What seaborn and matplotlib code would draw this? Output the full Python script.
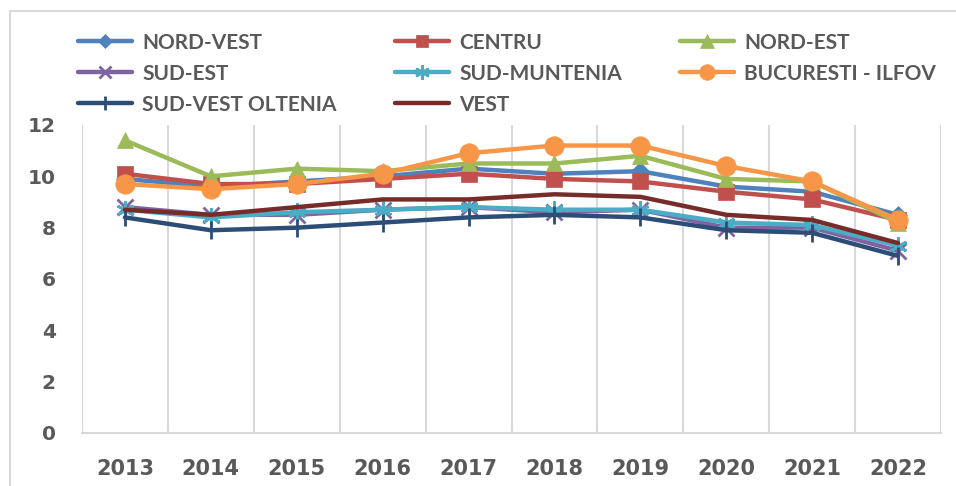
import numpy as np
import pandas as pd
import seaborn as sns
import matplotlib.pyplot as plt
from matplotlib.lines import Line2D

# ─── Data ─────────────────────────────────────────────────────────────────────
years = [2013, 2014, 2015, 2016, 2017, 2018, 2019, 2020, 2021, 2022]

nord_vest     = [9.9, 9.6, 9.8, 10.0, 10.3, 10.1, 10.2, 9.6, 9.4, 8.5]
centru        = [10.1, 9.7, 9.7, 9.9, 10.1, 9.9, 9.8, 9.4, 9.1, 8.3]
nord_est      = [11.4, 10.0, 10.3, 10.2, 10.5, 10.5, 10.8, 9.9, 9.8, 8.2]
sud_est       = [8.8, 8.5, 8.5, 8.7, 8.8, 8.6, 8.7, 8.0, 8.0, 7.1]
sud_muntenia  = [8.7, 8.4, 8.6, 8.7, 8.8, 8.7, 8.7, 8.2, 8.1, 7.3]
bucuresti     = [9.7, 9.5, 9.7, 10.1, 10.9, 11.2, 11.2, 10.4, 9.8, 8.3]
sud_vest_olt  = [8.4, 7.9, 8.0, 8.2, 8.4, 8.5, 8.4, 7.9, 7.8, 6.9]
vest          = [8.7, 8.5, 8.8, 9.1, 9.1, 9.3, 9.2, 8.5, 8.3, 7.4]

series_names = ["NORD-VEST", "CENTRU", "NORD-EST", "SUD-EST", "SUD-MUNTENIA",
                "BUCURESTI - ILFOV", "SUD-VEST OLTENIA", "VEST"]
series_values = [nord_vest, centru, nord_est, sud_est, sud_muntenia,
                 bucuresti, sud_vest_olt, vest]

y_ticks = [0, 2, 4, 6, 8, 10, 12]

# ─── Styles (Excel 2010 palette) ──────────────────────────────────────────────
colors  = ["#4F81BD", "#C0504D", "#9BBB59", "#8064A2", "#4BACC6",
           "#F79646", "#2C4D75", "#772C2A"]
markers = ["D", "s", "^", "x", (6, 2, 0), "o", "|", None]
msizes  = [9, 11, 12, 11, 13, 14, 13, 0]
TEXT    = "#595959"
GRID    = "#D9D9D9"

# ─── Plot ─────────────────────────────────────────────────────────────────────
sns.set_theme(style="white")
plt.rcParams["font.family"] = ["DejaVu Sans"]

fig = plt.figure(figsize=(9.56, 4.86), dpi=100)
ax = fig.add_axes([0.0858, 0.1091, 0.8985, 0.6337])

for name, vals, col, mk, ms in zip(series_names, series_values, colors, markers, msizes):
    df = pd.DataFrame({"year": years, "value": vals})
    sns.lineplot(data=df, x="year", y="value", ax=ax, color=col, linewidth=3.2,
                 marker=mk, markersize=ms, markeredgecolor=col,
                 markeredgewidth=2 if mk in ("x", (6, 2, 0), "|") else 0.5,
                 label=name, solid_capstyle="round")

ax.set_xlim(years[0] - 0.5, years[-1] + 0.5)
ax.set_ylim(y_ticks[0], y_ticks[-1])
ax.set_xticks(years)
ax.set_xticklabels([str(y) for y in years])
ax.set_xticks(np.array(years + [years[-1] + 1]) - 0.5, minor=True)
ax.set_yticks(y_ticks)
ax.set_xlabel("")
ax.set_ylabel("")

ax.grid(False)
ax.grid(True, which="minor", axis="x", color=GRID, linewidth=1.5)
ax.set_axisbelow(True)
for s in ["top", "left", "right"]:
    ax.spines[s].set_visible(False)
ax.spines["bottom"].set_color(GRID)
ax.spines["bottom"].set_linewidth(1.5)

ax.tick_params(axis="both", which="both", length=0)
ax.tick_params(axis="x", pad=19)
ax.tick_params(axis="y", pad=19)
for t in ax.get_xticklabels():
    t.set_fontsize(15)
    t.set_fontweight("bold")
    t.set_color(TEXT)
for t in ax.get_yticklabels():
    t.set_fontsize(14.5)
    t.set_fontweight("bold")
    t.set_color(TEXT)

# ─── Legend ───────────────────────────────────────────────────────────────────
ax.legend_.remove()
handles, labels = ax.get_legend_handles_labels()
# matplotlib fills column-wise; reorder so entries read row-wise
order = [0, 3, 6, 1, 4, 7, 2, 5]
leg = fig.legend([handles[i] for i in order], [labels[i] for i in order],
                 loc="upper left", bbox_to_anchor=(0.062, 0.9715), ncol=3,
                 frameon=False, handlelength=2.6, handletextpad=0.48,
                 columnspacing=2.8, labelspacing=0.53, markerscale=0.8,
                 prop={"family": "Lato", "weight": "bold", "size": 15})
for t in leg.get_texts():
    t.set_color(TEXT)

# outer chart border (top and left edges visible)
fig.add_artist(Line2D([10 / 956, 1.0], [1 - 11 / 486, 1 - 11 / 486],
                      transform=fig.transFigure, color=GRID, linewidth=1.5))
fig.add_artist(Line2D([10 / 956, 10 / 956], [0.0, 1 - 11 / 486],
                      transform=fig.transFigure, color=GRID, linewidth=1.5))

fig.savefig("out.png", dpi=100)
